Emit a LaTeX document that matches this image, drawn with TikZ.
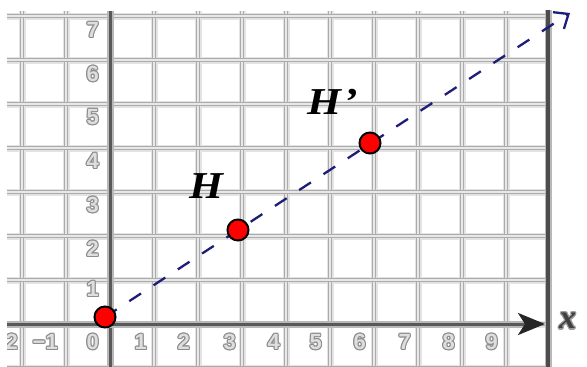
\documentclass[tikz,border=0pt]{standalone}
\usepackage{fontspec}
\usepackage{graphicx}
\setmainfont{Liberation Serif}
\newfontfamily\digfont{Liberation Sans}
\usetikzlibrary{arrows.meta}
\definecolor{navy}{RGB}{30,30,120}
\tikzset{
  gridsoft/.style={line width=7pt, draw=black!11},
  gridline/.style={draw=black!33, line width=1.4pt, double=black!9, double distance=1.6pt},
  axsoft/.style={line width=7pt, draw=black!28},
  axcore/.style={line width=3pt, draw=black!65},
  digit/.style={inner sep=0pt, font=\digfont\bfseries\fontsize{22}{24}\selectfont},
  ptmark/.style={circle, fill=red, draw=black, line width=2pt, minimum size=21pt, inner sep=0pt},
  hlab/.style={inner sep=0pt, font=\bfseries\itshape\fontsize{38}{40}\selectfont},
  dashline/.style={draw=navy, line width=2.3pt, dash pattern=on 14pt off 15pt,
    -{Straight Barb[length=12pt,width=20pt,line width=2.3pt]}},
}
\newcommand\outl[4]{%
  \foreach \ang in {0,45,...,315}
    \node[digit, text=black!45, anchor=#3] at ([shift={(\ang:1.1)}]#2) {#4};
  \node[digit, text=black!13, anchor=#3] (#1) at (#2) {#4};
}
\begin{document}
\begin{tikzpicture}[x=1pt,y=-1pt]
\useasboundingbox (0,0) rectangle (587,367);
\fill[white] (0,0) rectangle (587,367);

\begin{scope}
  \clip (7,11) rectangle (551,367);
  \foreach \gx in {22,66,...,550} \draw[gridsoft] (\gx,11) -- (\gx,367);
  \foreach \gy in {16,60,...,368} \draw[gridsoft] (7,\gy) -- (551,\gy);
  \foreach \gx in {22,66,...,550} \draw[gridline] (\gx,11) -- (\gx,367);
  \foreach \gy in {16,60,...,368} \draw[gridline] (7,\gy) -- (551,\gy);
  % x labels
  \outl{xm2}{18,342}{east}{−2}
  \outl{xm1}{58,342}{east}{−1}
  \outl{x0}{99,342}{east}{0}
  \outl{x1}{147,342}{east}{1}
  \outl{x2}{190,342}{east}{2}
  \outl{x3}{236,342}{east}{3}
  \outl{x4}{280,342}{east}{4}
  \outl{x5}{322,342}{east}{5}
  \outl{x6}{366,342}{east}{6}
  \outl{x7}{411,342}{east}{7}
  \outl{x8}{455,342}{east}{8}
  \outl{x9}{498,342}{east}{9}
  % y labels
  \outl{y1}{99,289}{east}{1}
  \outl{y2}{99,249}{east}{2}
  \outl{y3}{99,205}{east}{3}
  \outl{y4}{99,161}{east}{4}
  \outl{y5}{99,117}{east}{5}
  \outl{y6}{99,74}{east}{6}
  \outl{y7}{99,30}{east}{7}
\end{scope}

% y-axis
\draw[axsoft] (110,11) -- (110,367);
\draw[axcore] (110,11) -- (110,367);
% right border
\draw[axsoft] (548,10) -- (548,367);
\draw[line width=3.5pt, draw=black!70] (548,10) -- (548,367);
% x-axis
\coordinate (xs) at (7,324);
\coordinate (xe) at (545,324);
\draw[axsoft] (xs) -- (536,324);
\draw[axcore, -{Stealth[length=27pt,width=22pt,inset=7pt,black!85]}] (xs) -- (xe);

% x label
\foreach \ang in {0,45,...,315}
  \node[hlab, font=\bfseries\itshape\fontsize{34}{36}\selectfont, text=black!40, anchor=west] at ([shift={(\ang:1.2)}]559,321) {x};
\node[hlab, font=\bfseries\itshape\fontsize{34}{36}\selectfont, text=black!75, anchor=west] (xlab) at (559,321) {x};

% dashed line through points
\coordinate (o) at (105,317);
\coordinate (h) at (238,230);
\coordinate (hp) at (370,143);
\coordinate (tip) at (570,13);
\draw[dashline] (o) -- (tip);

\node[ptmark] (O) at (o) {};
\node[ptmark] (H) at (h) {};
\node[ptmark] (Hp) at (hp) {};

\node[hlab] (Hlab) at (206,186) {\scalebox{1.15}[1]{H}};
\node[hlab] (Hplab) at (333,102) {\scalebox{1.15}[1]{H\kern2pt’}};
\end{tikzpicture}
\end{document}
